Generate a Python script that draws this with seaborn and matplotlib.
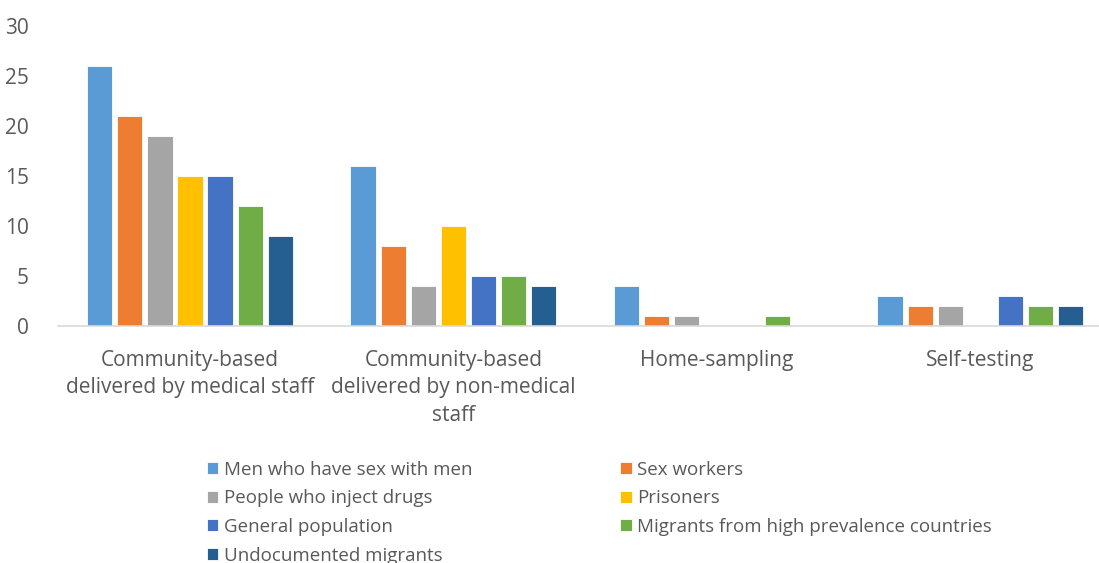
import matplotlib
matplotlib.use("Agg")
import matplotlib.pyplot as plt
import seaborn as sns
import pandas as pd

categories = ["Community-based\ndelivered by medical staff",
              "Community-based\ndelivered by non-medical\nstaff",
              "Home-sampling",
              "Self-testing"]
groups = ["Men who have sex with men", "Sex workers", "People who inject drugs",
          "Prisoners", "General population", "Migrants from high prevalence countries",
          "Undocumented migrants"]
msm = [26, 16, 4, 3]
sex_workers = [21, 8, 1, 2]
pwid = [19, 4, 1, 2]
prisoners = [15, 10, 0, 0]
general = [15, 5, 0, 3]
migrants_high = [12, 5, 1, 2]
undocumented = [9, 4, 0, 2]
series = [msm, sex_workers, pwid, prisoners, general, migrants_high, undocumented]
colors = ["#5B9BD5", "#ED7D31", "#A5A5A5", "#FFC000", "#4472C4", "#70AD47", "#255E91"]
yticks = [0, 5, 10, 15, 20, 25, 30]

rows = []
for g, vals in zip(groups, series):
    for c, v in zip(categories, vals):
        rows.append({"category": c, "group": g, "value": v})
df = pd.DataFrame(rows)

sns.set_theme(style="white")
plt.rcParams['font.family'] = ['Open Sans', 'DejaVu Sans']

fig = plt.figure(figsize=(10.99, 5.63), dpi=100)
ax = fig.add_axes([0.053, 0.421, 0.947, 0.533])
sns.barplot(data=df, x="category", y="value", hue="group", order=categories,
            hue_order=groups, palette=colors, saturation=1, width=0.8, gap=0.16,
            edgecolor="white", linewidth=0.6, ax=ax, legend=True)
ax.set_xlim(-0.5, 3.45)
ax.set_ylim(0, 30)
ax.set_yticks(yticks)
ax.set_xlabel("")
ax.set_ylabel("")
for s in ["top", "right", "left"]:
    ax.spines[s].set_visible(False)
ax.spines["bottom"].set_color("#D9D9D9")
ax.spines["bottom"].set_linewidth(1.2)
ax.tick_params(axis="both", length=0, colors="#595959", labelsize=15)
ax.tick_params(axis="x", pad=17)
ax.tick_params(axis="y", pad=21)
for t in ax.get_xticklabels():
    t.set_linespacing(1.42)

handles, labels = ax.get_legend_handles_labels()
ax.get_legend().remove()
order = [0, 2, 4, 6, 1, 3, 5]
leg = fig.legend([handles[i] for i in order], [labels[i] for i in order],
                 ncol=2, loc="upper left", bbox_to_anchor=(0.178, 0.202), frameon=False,
                 fontsize=13.5, handlelength=0.6, handleheight=0.6, handletextpad=0.3,
                 columnspacing=7.9, labelspacing=0.57, labelcolor="#595959",
                 borderaxespad=0.2)
fig.savefig("out.png", dpi=100)
